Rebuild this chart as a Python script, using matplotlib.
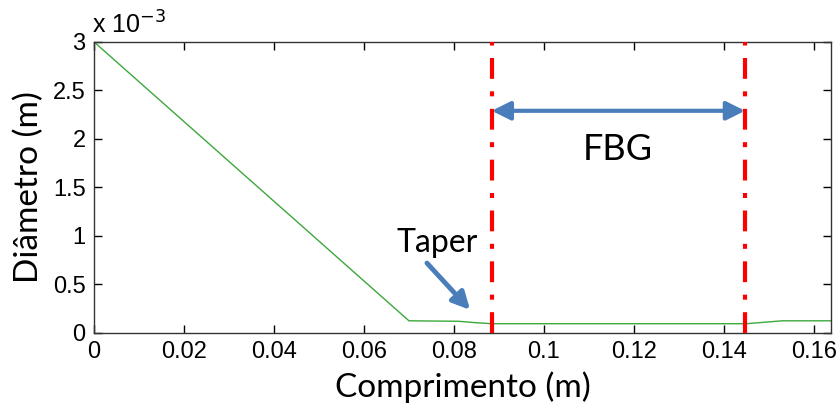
import matplotlib
matplotlib.use('Agg')
import matplotlib.pyplot as plt
from matplotlib.ticker import FuncFormatter

# perfil do diametro ao longo da fibra
comprimento = [0, 0.07, 0.081, 0.085, 0.0884, 0.145, 0.149, 0.153, 0.164]
diametro = [3.0e-3, 0.125e-3, 0.12e-3, 0.105e-3, 0.095e-3, 0.095e-3, 0.11e-3, 0.125e-3, 0.125e-3]

fbg_inicio = 0.0884
fbg_fim = 0.1447
x_ticks = [0, 0.02, 0.04, 0.06, 0.08, 0.1, 0.12, 0.14, 0.16]
y_ticks = [0, 0.5e-3, 1e-3, 1.5e-3, 2e-3, 2.5e-3, 3e-3]

TICK_FONT = ['Liberation Sans', 'DejaVu Sans']
LABEL_FONT = ['Lato', 'DejaVu Sans']
AZUL = '#4a7ebb'

fig = plt.figure(figsize=(8.38, 4.07), dpi=100)
ax = fig.add_axes([0.1122, 0.182, 0.8794, 0.715])

ax.plot(comprimento, diametro, color='#3ca83c', lw=1.0)

for xv in (fbg_inicio, fbg_fim):
    ax.axvline(xv, color='red', lw=3, linestyle=(0, (5, 3, 1.2, 3)), zorder=3)

ax.annotate('', xy=(fbg_inicio, 2.29e-3), xytext=(fbg_fim, 2.29e-3),
            arrowprops=dict(arrowstyle='<|-|>', color=AZUL, lw=3,
                            mutation_scale=28, shrinkA=0, shrinkB=0))
ax.text(0.1164, 1.89e-3, 'FBG', fontsize=26, family=LABEL_FONT,
        ha='center', va='center')

ax.annotate('', xy=(0.0836, 0.237e-3), xytext=(0.0740, 0.72e-3),
            arrowprops=dict(arrowstyle='-|>', color=AZUL, lw=3.5,
                            mutation_scale=26, shrinkA=0, shrinkB=0))
ax.text(0.0762, 0.93e-3, 'Taper', fontsize=23, family=LABEL_FONT,
        ha='center', va='center')

ax.set_xlim(0, 0.1638)
ax.set_ylim(0, 3e-3)
ax.set_xticks(x_ticks)
ax.set_yticks(y_ticks)
ax.xaxis.set_major_formatter(FuncFormatter(lambda v, p: '%g' % round(v, 4)))
ax.yaxis.set_major_formatter(FuncFormatter(lambda v, p: '%g' % round(v * 1e3, 4)))
ax.tick_params(direction='in', length=6, width=1, top=True, right=True,
               labelsize=17, pad=6)
for lab in ax.get_xticklabels() + ax.get_yticklabels():
    lab.set_family(TICK_FONT)
for s in ax.spines.values():
    s.set_linewidth(1.0)
    s.set_color('#333333')

ax.text(-0.003, 1.01, 'x 10$^{-3}$', transform=ax.transAxes, fontsize=18,
        family=TICK_FONT, ha='left', va='bottom')

ax.set_xlabel('Comprimento (m)', fontsize=24, family=LABEL_FONT, labelpad=6)
ax.set_ylabel('Diâmetro (m)', fontsize=24, family=LABEL_FONT, labelpad=6)

fig.savefig('out.png', dpi=100)
